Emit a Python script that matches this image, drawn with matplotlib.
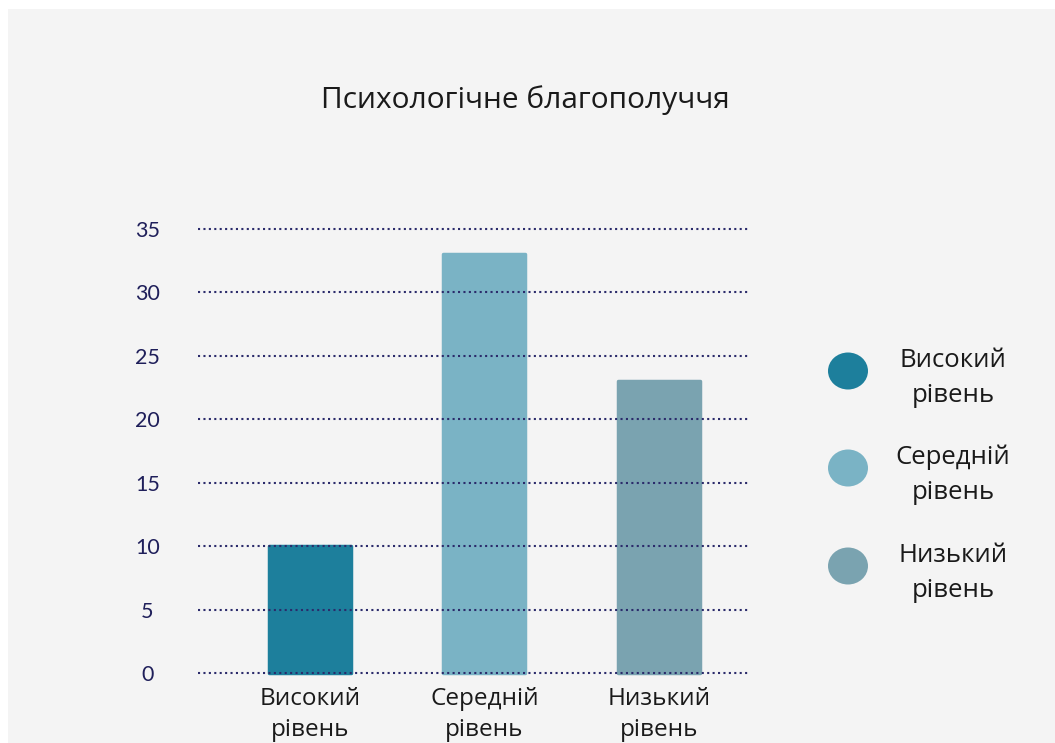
import matplotlib.pyplot as plt
from matplotlib.patches import Rectangle, Ellipse

# дані
categories = ['Високий\nрівень', 'Середній\nрівень', 'Низький\nрівень']
values = [10, 33, 23]
colors = ['#1d7f9c', '#7ab3c5', '#7aa3b0']
yticks = [0, 5, 10, 15, 20, 25, 30, 35]
title = 'Психологічне благополуччя'

W, H = 1055, 743
fig = plt.figure(figsize=(W / 100, H / 100), dpi=100, facecolor='white')

# сіра панель
fig.patches.append(Rectangle((8 / W, 0), 1 - 8 / W, (H - 9) / H,
                             transform=fig.transFigure, facecolor='#f4f4f4',
                             edgecolor='none', zorder=-5))

ax = fig.add_axes([198 / W, (H - 675.5) / H, 550 / W, 449 / H])
ax.set_zorder(2)
ax.set_facecolor('none')
x = range(len(values))
ax.bar(x, values, width=0.47, color=colors, edgecolor=colors, linewidth=2.5,
       joinstyle='round', zorder=2)
ax.set_xlim(-0.64, 2.51)
ax.set_ylim(-0.2, 35.2)

ax.set_yticks(yticks)
ax.yaxis.grid(True, linestyle=(0, (1, 1.6)), linewidth=1.5, color='#2b2b6b', zorder=3)
ax.set_axisbelow(False)
for s in ax.spines.values():
    s.set_visible(False)
ax.tick_params(left=False, bottom=False)
ax.tick_params(axis='y', labelsize=15.5, labelcolor='#1f1f5a', pad=33)
for lab in ax.get_yticklabels():
    lab.set_fontfamily(['Lato', 'DejaVu Sans'])
    lab.set_ha('center')

ax.set_xticks(list(x))
ax.set_xticklabels(categories, fontsize=17.5, color='#1a1a1a', linespacing=1.35,
                   family=['Open Sans', 'DejaVu Sans'], ma='center')
ax.tick_params(axis='x', pad=5)

fig.text(525 / W, 1 - 100 / H, title, fontsize=21.5, color='#1a1a1a',
         ha='center', va='center', family=['Open Sans', 'DejaVu Sans'])

# легенда
leg_y = [371, 468, 566]
for c, lab, yy in zip(colors, categories, leg_y):
    fig.patches.append(Ellipse((848 / W, 1 - yy / H), 40 / W, 37 / H,
                               transform=fig.transFigure, facecolor=c,
                               edgecolor='none'))
    fig.text(953 / W, 1 - (yy + 7) / H, lab, fontsize=18.5, color='#1a1a1a',
             ha='center', va='center', ma='center', linespacing=1.55,
             family=['Open Sans', 'DejaVu Sans'])

fig.savefig('out.png', dpi=100, facecolor='white')
